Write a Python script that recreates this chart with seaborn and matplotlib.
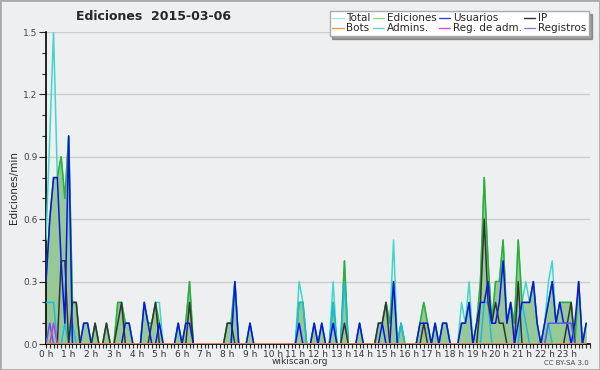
import matplotlib
matplotlib.use("Agg")
import matplotlib.pyplot as plt
import numpy as np
import pandas as pd
import seaborn as sns
from matplotlib.lines import Line2D
from matplotlib.ticker import MultipleLocator

# 10-minute buckets, edits per minute (144 points, one row = 2 hours)
total = [
    0.5, 1.0, 1.5, 0.8, 0.9, 0.7, 1.0, 0.2, 0.2, 0, 0.1, 0.1,
    0, 0.1, 0, 0, 0.1, 0, 0, 0.2, 0.2, 0.1, 0.1, 0,
    0, 0, 0.2, 0.1, 0.1, 0.2, 0.2, 0, 0, 0, 0, 0.1,
    0, 0.1, 0.3, 0, 0, 0, 0, 0, 0, 0, 0, 0,
    0.1, 0.1, 0.3, 0, 0, 0, 0.1, 0, 0, 0, 0, 0,
    0, 0, 0, 0, 0, 0, 0, 0.3, 0.2, 0, 0, 0.1,
    0, 0.1, 0, 0, 0.3, 0, 0, 0.4, 0, 0, 0, 0.1,
    0, 0, 0, 0, 0.1, 0.1, 0.2, 0.1, 0.5, 0, 0.1, 0,
    0, 0, 0, 0.1, 0.2, 0.1, 0, 0.1, 0, 0.1, 0.1, 0,
    0, 0, 0.2, 0.1, 0.3, 0, 0.1, 0.3, 0.8, 0.4, 0.1, 0.3,
    0.3, 0.5, 0.1, 0.2, 0.1, 0.5, 0.2, 0.3, 0.2, 0.3, 0.1, 0,
    0.1, 0.3, 0.4, 0.1, 0.2, 0.2, 0.2, 0.2, 0, 0.3, 0, 0.1,
]
ediciones = [
    0.3, 0.6, 0.8, 0.8, 0.9, 0.7, 1.0, 0.2, 0.2, 0, 0.1, 0.1,
    0, 0.1, 0, 0, 0.1, 0, 0, 0.2, 0.2, 0.1, 0.1, 0,
    0, 0, 0.2, 0.1, 0.1, 0.2, 0.1, 0, 0, 0, 0, 0.1,
    0, 0.1, 0.3, 0, 0, 0, 0, 0, 0, 0, 0, 0,
    0.1, 0.1, 0.3, 0, 0, 0, 0.1, 0, 0, 0, 0, 0,
    0, 0, 0, 0, 0, 0, 0, 0.2, 0.2, 0, 0, 0.1,
    0, 0.1, 0, 0, 0.2, 0, 0, 0.4, 0, 0, 0, 0.1,
    0, 0, 0, 0, 0.1, 0.1, 0.2, 0.1, 0.3, 0, 0.1, 0,
    0, 0, 0, 0.1, 0.2, 0.1, 0, 0.1, 0, 0.1, 0.1, 0,
    0, 0, 0.1, 0.1, 0.2, 0, 0.1, 0.3, 0.8, 0.4, 0.1, 0.3,
    0.3, 0.5, 0.1, 0.2, 0.1, 0.5, 0.2, 0.2, 0.2, 0.3, 0.1, 0,
    0.1, 0.2, 0.3, 0.1, 0.2, 0.2, 0.2, 0.2, 0, 0.3, 0, 0.1,
]
usuarios = [
    0.3, 0.6, 0.8, 0.8, 0.4, 0.1, 1.0, 0, 0, 0, 0.1, 0.1,
    0, 0, 0, 0, 0, 0, 0, 0, 0, 0.1, 0.1, 0,
    0, 0, 0.2, 0.1, 0, 0, 0.1, 0, 0, 0, 0, 0.1,
    0, 0.1, 0.1, 0, 0, 0, 0, 0, 0, 0, 0, 0,
    0, 0, 0.3, 0, 0, 0, 0.1, 0, 0, 0, 0, 0,
    0, 0, 0, 0, 0, 0, 0, 0.1, 0, 0, 0, 0.1,
    0, 0.1, 0, 0, 0.1, 0, 0, 0, 0, 0, 0, 0.1,
    0, 0, 0, 0, 0, 0.1, 0, 0, 0.3, 0, 0, 0,
    0, 0, 0, 0.1, 0.1, 0.1, 0, 0.1, 0, 0.1, 0.1, 0,
    0, 0, 0.1, 0.1, 0.2, 0, 0.1, 0.2, 0.2, 0.3, 0.1, 0.1,
    0.2, 0.4, 0.1, 0.2, 0, 0.1, 0.2, 0.2, 0.2, 0.3, 0.1, 0,
    0.1, 0.2, 0.3, 0.1, 0.2, 0.1, 0.1, 0, 0.1, 0.3, 0, 0.1,
]
ip = [
    0, 0, 0, 0, 0.4, 0.4, 0, 0.2, 0.2, 0, 0, 0,
    0, 0.1, 0, 0, 0.1, 0, 0, 0.1, 0.2, 0, 0, 0,
    0, 0, 0, 0, 0.1, 0.2, 0, 0, 0, 0, 0, 0,
    0, 0, 0.2, 0, 0, 0, 0, 0, 0, 0, 0, 0,
    0.1, 0.1, 0, 0, 0, 0, 0, 0, 0, 0, 0, 0,
    0, 0, 0, 0, 0, 0, 0, 0, 0, 0, 0, 0,
    0, 0, 0, 0, 0, 0, 0, 0.1, 0, 0, 0, 0,
    0, 0, 0, 0, 0.1, 0.1, 0.2, 0, 0, 0, 0, 0,
    0, 0, 0, 0, 0.1, 0, 0, 0, 0, 0, 0, 0,
    0, 0, 0, 0, 0, 0, 0, 0.2, 0.6, 0.2, 0.1, 0.2,
    0.1, 0.1, 0, 0, 0, 0.3, 0, 0, 0, 0, 0, 0,
    0, 0, 0, 0, 0, 0, 0.1, 0.2, 0, 0, 0, 0,
]
admins = [
    0.2, 0.2, 0.2, 0, 0, 0.1, 0, 0.1, 0, 0, 0, 0,
    0, 0, 0, 0, 0, 0, 0, 0, 0, 0, 0, 0,
    0, 0, 0, 0, 0, 0, 0, 0, 0, 0, 0, 0,
    0, 0, 0, 0, 0, 0, 0, 0, 0, 0, 0, 0,
    0, 0, 0.3, 0, 0, 0, 0, 0, 0, 0, 0, 0,
    0, 0, 0, 0, 0, 0, 0, 0.2, 0.2, 0, 0, 0,
    0, 0, 0, 0, 0.2, 0, 0, 0.3, 0, 0, 0, 0,
    0, 0, 0, 0, 0, 0, 0, 0, 0, 0, 0.1, 0,
    0, 0, 0, 0, 0, 0, 0, 0, 0, 0, 0, 0,
    0, 0, 0, 0, 0, 0, 0, 0, 0.2, 0.2, 0, 0,
    0, 0, 0, 0, 0, 0, 0.2, 0.1, 0, 0, 0, 0,
    0, 0.1, 0, 0, 0, 0, 0, 0, 0, 0, 0, 0,
]
registros = [
    0, 0.1, 0, 0, 0, 0, 0, 0, 0, 0, 0, 0,
    0, 0, 0, 0, 0, 0, 0, 0, 0, 0, 0, 0,
    0, 0, 0, 0, 0, 0, 0, 0, 0, 0, 0, 0,
    0, 0, 0, 0, 0, 0, 0, 0, 0, 0, 0, 0,
    0, 0, 0, 0, 0, 0, 0, 0, 0, 0, 0, 0,
    0, 0, 0, 0, 0, 0, 0, 0, 0, 0, 0, 0,
    0, 0, 0, 0, 0, 0, 0, 0, 0, 0, 0, 0,
    0, 0, 0, 0, 0, 0, 0, 0, 0, 0, 0, 0,
    0, 0, 0, 0, 0, 0, 0, 0, 0, 0, 0, 0,
    0, 0, 0, 0, 0, 0, 0, 0, 0, 0, 0, 0,
    0, 0, 0, 0, 0, 0, 0, 0, 0, 0, 0, 0,
    0, 0.1, 0.1, 0.1, 0.1, 0.1, 0.1, 0.1, 0, 0, 0, 0,
]
reg_adm = [0.0] * 144
reg_adm[2] = 0.1
bots = [0.0] * 144

hour_labels = [f"{h} h" for h in range(24)]

bg = "#eeeff1"
colors = {
    "total": "#3fd8c8",
    "ediciones": "#2fae2f",
    "usuarios": "#0a14e6",
    "ip": "#333333",
    "bots": "#f09a30",
    "admins": "#18bde0",
    "reg_adm": "#c83ad8",
    "registros": "#5a5af0",
}

df = pd.DataFrame({
    "total": total, "ediciones": ediciones, "usuarios": usuarios, "ip": ip,
    "admins": admins, "registros": registros, "reg_adm": reg_adm, "bots": bots,
})
df["hora"] = np.arange(len(df)) / 6

sns.set_style("white", {"axes.facecolor": bg, "figure.facecolor": bg})

fig = plt.figure(figsize=(6, 3.7), dpi=100, facecolor=bg)
ax = fig.add_axes([46 / 600, 26 / 370, 544 / 600, 312 / 370])
ax.set_facecolor(bg)

ax.fill_between(df["hora"], df["ediciones"], color="#97c997", lw=0, zorder=2)
for col in ["total", "ediciones", "admins", "ip", "usuarios", "registros", "reg_adm", "bots"]:
    sns.lineplot(data=df, x="hora", y=col, color=colors[col], lw=1.1, ax=ax, zorder=3)

ax.set_xlim(0, 24)
ax.set_ylim(0, 1.5)
ax.set_xticks(range(24))
ax.set_xticklabels(hour_labels, fontsize=6.5, color="#333333")
ax.xaxis.set_minor_locator(MultipleLocator(1 / 6))
ax.set_yticks(np.arange(0, 1.51, 0.3))
ax.set_yticklabels([f"{v:.1f}" for v in np.arange(0, 1.51, 0.3)], fontsize=6.5, color="#444444")
ax.yaxis.set_minor_locator(MultipleLocator(0.1))
ax.tick_params(axis="x", which="both", direction="out", length=3, width=0.8, pad=1, bottom=True)
ax.tick_params(axis="y", which="major", direction="out", length=5, width=0.8, pad=1, left=True)
ax.tick_params(axis="y", which="minor", direction="out", length=3, width=0.8, left=True)
ax.grid(axis="y", color="#cccccc", lw=1)
ax.set_axisbelow(True)
for s in ["top", "right"]:
    ax.spines[s].set_visible(False)
for s in ["left", "bottom"]:
    ax.spines[s].set_color("black")
    ax.spines[s].set_linewidth(1.2)
ax.set_xlabel("")
ax.set_ylabel("Ediciones/min", fontsize=7.5, labelpad=3)

fig.text(0.256, 0.955, "Ediciones  2015-03-06", ha="center", va="center",
         fontsize=9, fontweight="bold")
fig.text(0.5, 0.022, "wikiscan.org", ha="center", va="center", fontsize=6.5, color="#333333")
fig.text(0.982, 0.02, "CC BY-SA 3.0", ha="right", va="center", fontsize=5, color="#444444")

legend_cols = {
    "Total": "#a8e6de", "Bots": "#f0a040", "Ediciones": "#90d890",
    "Admins.": "#60d0e0", "Usuarios": "#4040e0", "Reg. de adm.": "#d050e0",
    "IP": "#303030", "Registros": "#8080f0",
}
handles = [Line2D([], [], color=c, lw=1) for c in legend_cols.values()]
leg = fig.legend(handles, list(legend_cols.keys()), loc="upper right",
                 bbox_to_anchor=(0.99, 0.985), ncol=4, fontsize=7.5, frameon=True,
                 shadow=True, fancybox=False, handlelength=1.1, handletextpad=0.25,
                 columnspacing=0.2, borderpad=0.25, labelspacing=0.0)
leg.get_frame().set_edgecolor("#aaaaaa")
leg.get_frame().set_facecolor("white")

fig.add_artist(plt.Rectangle((0, 0), 1, 1, transform=fig.transFigure, fill=False,
                             ec="#aaaaaa", lw=2))

fig.savefig("out.png", dpi=100, facecolor=bg)
